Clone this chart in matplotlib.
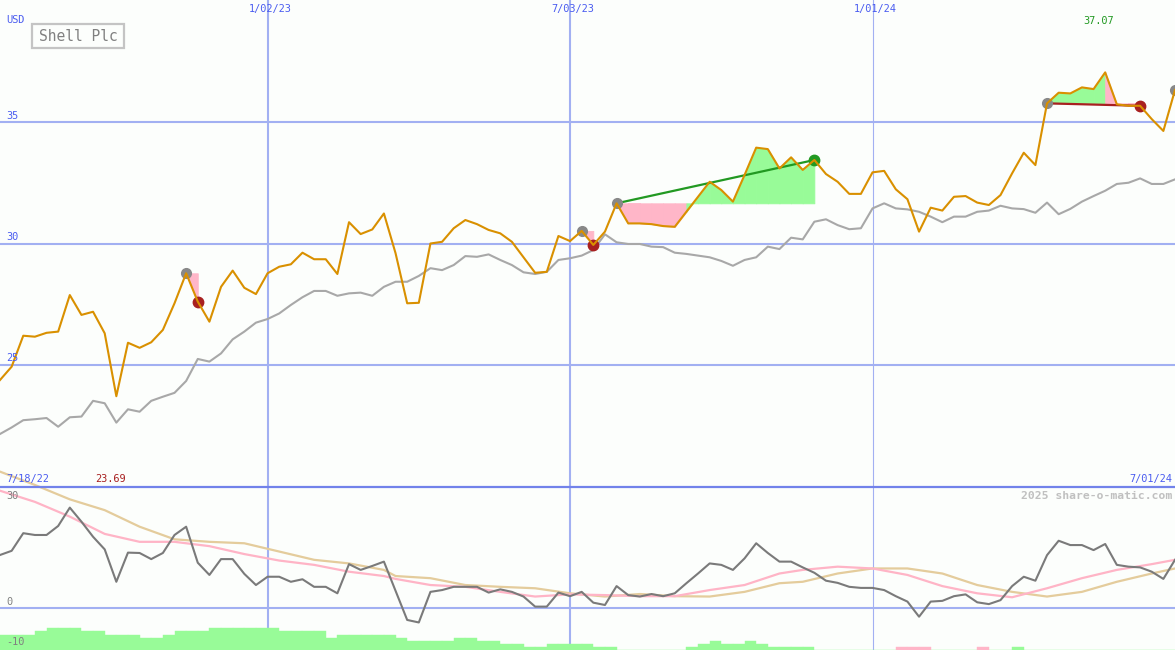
import matplotlib
matplotlib.use('Agg')
import matplotlib.pyplot as plt
from matplotlib.patches import Rectangle
from matplotlib.lines import Line2D
import numpy as np
import pandas as pd

# ---------------- data ----------------
dates = pd.date_range('2022-07-25', periods=102, freq='7D')

price = [24.36, 24.91, 26.19, 26.15, 26.31, 26.36, 27.87, 27.05, 27.18, 26.29,
         23.69, 25.9, 25.69, 25.92, 26.43, 27.53, 28.77, 27.6, 26.77, 28.21,
         28.88, 28.17, 27.91, 28.77, 29.04, 29.14, 29.62, 29.35, 29.35, 28.74,
         30.88, 30.39, 30.58, 31.24, 29.6, 27.53, 27.55, 30.0, 30.07, 30.63,
         30.97, 30.8, 30.56, 30.42, 30.07, 29.43, 28.79, 28.83, 30.31, 30.1,
         30.52, 29.94, 30.49, 31.66, 30.83, 30.83, 30.8, 30.72, 30.69, 31.31,
         31.93, 32.55, 32.21, 31.73, 32.83, 33.96, 33.9, 33.1, 33.56, 33.04,
         33.45, 32.87, 32.55, 32.05, 32.05, 32.94, 33.0, 32.24, 31.83, 30.49,
         31.48, 31.36, 31.93, 31.96, 31.69, 31.59, 32.0, 32.9, 33.75, 33.24,
         35.79, 36.23, 36.2, 36.45, 36.38, 37.07, 35.75, 35.69, 35.69, 35.14,
         34.65, 36.34]

bench = [22.13, 22.4, 22.7, 22.74, 22.79, 22.43, 22.82, 22.85, 23.5, 23.4,
         22.6, 23.15, 23.05, 23.5, 23.67, 23.83, 24.32, 25.23, 25.12, 25.46,
         26.04, 26.36, 26.73, 26.88, 27.11, 27.46, 27.78, 28.04, 28.04, 27.84,
         27.94, 27.97, 27.84, 28.21, 28.42, 28.42, 28.66, 28.98, 28.9, 29.11,
         29.48, 29.45, 29.55, 29.32, 29.11, 28.81, 28.74, 28.83, 29.32, 29.39,
         29.5, 29.73, 30.38, 30.05, 29.98, 29.98, 29.87, 29.85, 29.62, 29.57,
         29.5, 29.43, 29.28, 29.08, 29.32, 29.43, 29.87, 29.77, 30.24, 30.17,
         30.9, 31.0, 30.76, 30.59, 30.63, 31.45, 31.66, 31.45, 31.41, 31.31,
         31.11, 30.88, 31.11, 31.11, 31.31, 31.36, 31.56, 31.45, 31.42, 31.27,
         31.69, 31.21, 31.43, 31.73, 31.96, 32.18, 32.46, 32.51, 32.69, 32.46,
         32.46, 32.65]

osc = [14.64, 15.8, 20.7, 20.2, 20.2, 22.7, 27.8, 23.9, 19.7, 16.2,
       7.2, 15.3, 15.2, 13.5, 15.2, 20.2, 22.5, 12.5, 9.1, 13.5,
       13.5, 9.4, 6.3, 8.6, 8.6, 7.2, 7.9, 5.8, 5.8, 4.0,
       12.1, 10.5, 11.6, 12.8, 4.7, -3.4, -4.1, 4.4, 4.9, 5.8,
       5.8, 5.8, 4.2, 5.1, 4.4, 3.1, 0.3, 0.3, 4.2, 3.2,
       4.4, 1.4, 0.75, 6.0, 3.5, 3.1, 3.8, 3.2, 4.0, 6.8,
       9.5, 12.3, 11.9, 10.5, 13.7, 17.9, 15.2, 12.8, 12.8, 11.2,
       9.7, 7.5, 6.9, 5.8, 5.5, 5.5, 4.9, 3.2, 1.7, -2.5,
       1.7, 1.9, 3.2, 3.7, 1.5, 1.0, 2.1, 6.0, 8.6, 7.5,
       14.6, 18.6, 17.4, 17.4, 16.0, 17.7, 11.9, 11.4, 11.2, 10.0,
       8.0, 13.3]

ma_idx = [0, 3, 6, 9, 12, 15, 18, 21, 24, 27, 30, 33,
          34, 37, 40, 43, 46, 49, 52, 55, 58, 61, 64, 67,
          69, 72, 75, 78, 81, 84, 87, 90, 93, 96, 99, 101]
ma_fast = [32.5, 29.4, 25.3, 20.5, 18.3, 18.3, 17.1, 14.9, 13.1, 11.9, 10.0, 8.8,
           8.0, 6.3, 5.8, 4.4, 3.1, 3.7, 3.5, 3.2, 3.2, 4.9, 6.3, 9.5,
           10.5, 11.4, 10.9, 9.1, 6.0, 4.0, 2.9, 5.4, 8.2, 10.5, 12.1, 13.3]
ma_slow = [37.8, 34.1, 30.1, 27.1, 22.5, 19.0, 18.3, 17.9, 15.6, 13.3, 12.3, 10.5,
           8.8, 8.2, 6.3, 5.8, 5.4, 4.0, 3.1, 3.8, 3.2, 3.1, 4.4, 6.8,
           7.2, 9.5, 10.9, 10.9, 9.5, 6.3, 4.4, 3.1, 4.4, 7.2, 9.5, 10.9]

bars = ([4.2] * 3 + [5.3] + [6.2] * 3 + [5.3] * 2 + [4.2] * 3 + [3.4] * 2 + [4.2] +
        [5.3] * 3 + [6.2] * 6 + [5.3] * 4 + [3.4] + [4.2] * 5 + [3.4] + [2.5] * 4 +
        [3.4] * 2 + [2.5] * 2 + [1.75] * 2 + [0.75] * 2 + [1.75] * 4 + [0.75] * 2 +
        [0] * 6 + [0.75] + [1.75] + [2.5] + [1.75] * 2 + [2.5] + [1.75] + [0.75] * 4 +
        [0] * 7 + [-0.75] * 3 + [0] * 4 + [-0.75] + [0] * 2 + [0.75] + [0] * 14)

# trades: (start index, end index, line colour or None, end dot colour)
trades = [(16, 17, None, '#a82020'),
          (50, 51, None, '#a82020'),
          (53, 70, '#229922', '#229922'),
          (90, 98, '#a82020', '#a82020')]
open_trade = 101

vlines = [pd.Timestamp('2023-01-02'), pd.Timestamp('2023-07-03'), pd.Timestamp('2024-01-01')]
vlabels = ['1/02/23', '7/03/23', '1/01/24']
vwidths = [1.5, 1.5, 0.8]

# ---------------- style ----------------
W, H = 1175, 650
BG = '#fcfefc'
GRID = '#a2b0f2'
SEP = '#7282ea'
BLUE = '#4a5cf0'
GOLD = '#d99000'
GREENF = '#98fb98'
PINKF = '#ffb6c8'
MONO = 'DejaVu Sans Mono'

fig = plt.figure(figsize=(W / 100, H / 100), dpi=100, facecolor=BG)
split = 487
ax = fig.add_axes([0, (H - split) / H, 1, split / H])
axl = fig.add_axes([0, 0, 1, (H - split) / H])
for a in (ax, axl):
    a.set_facecolor('none')
    a.set_axis_off()
    a.set_xlim(dates[0], dates[-1])
ax.set_ylim(19.94, 40.06)
axl.set_ylim(-11.75, 33.53)

# grid
for v in (25, 30, 35):
    ax.axhline(v, color=GRID, lw=1.5, zorder=1)
for d, w in zip(vlines, vwidths):
    ax.axvline(d, color=GRID, lw=w, zorder=1)
    axl.axvline(d, color=GRID, lw=w, zorder=1)
axl.axhline(0, color=GRID, lw=1.5, zorder=1)
fig.add_artist(Line2D([0, 1], [(H - split) / H] * 2, transform=fig.transFigure,
                      color=SEP, lw=1.6, zorder=2))

# main series
ax.plot(dates, bench, color='#a8a8a8', lw=1.5, zorder=3)

pr = np.array(price)
for i0, i1, lcol, dcol in trades:
    level = pr[i0]
    for k in range(i0, i1):
        col = GREENF if pr[k + 1] >= level else PINKF
        ax.fill_between(dates[k:k + 2], level, pr[k:k + 2], facecolor=col,
                        edgecolor=col, lw=0.6, zorder=2.5)

for i0, i1, lcol, dcol in trades:
    if lcol is not None:
        ax.plot([dates[i0], dates[i1]], [pr[i0], pr[i1]], color=lcol, lw=1.6, zorder=3.3)
    ax.plot(dates[i0], pr[i0], 'o', color='#888888', ms=7, zorder=3.5, clip_on=False)
    ax.plot(dates[i1], pr[i1], 'o', color=dcol, ms=7.5, zorder=3.5, clip_on=False)
ax.plot(dates[open_trade], pr[open_trade], 'o', color='#888888', ms=7, zorder=3.5, clip_on=False)

ax.plot(dates, price, color=GOLD, lw=1.5, zorder=4)

# lower panel
b = np.array(bars)
bcol = [GREENF if v >= 0 else PINKF for v in b]
axl.bar(dates, np.abs(b), width=7, align='edge', bottom=-11.75, color=bcol,
        edgecolor=bcol, lw=0.3, zorder=1.5)
axl.plot(dates[ma_idx], ma_slow, color='#e4cc9c', lw=1.6, zorder=3, clip_on=False)
axl.plot(dates[ma_idx], ma_fast, color='#ffb4c6', lw=1.6, zorder=3.2)
axl.plot(dates, osc, color='#7a7a7a', lw=1.5, zorder=4)

# ---------------- texts ----------------
def ftext(x, y, s, **kw):
    kw.setdefault('family', MONO)
    kw.setdefault('fontsize', 7.4)
    kw.setdefault('va', 'center')
    fig.text(x / W, 1 - y / H, s, **kw)

ftext(6, 20, 'USD', color=BLUE)
for v, y in ((35, 116), (30, 237), (25, 358)):
    ftext(6, y, str(v), color=BLUE)
for d, s in zip(vlines, vlabels):
    xpx = (d - dates[0]).days / (dates[-1] - dates[0]).days * W
    ftext(xpx + 3, 9, s, color=BLUE, ha='center')

fig.add_artist(Rectangle((32 / W, 1 - 48 / H), 92 / W, 24 / H, transform=fig.transFigure,
                         fill=False, ec='#c4c4c4', lw=1.6))
ftext(78, 36.5, 'Shell Plc', color='#808080', fontsize=10.5, ha='center')

imax = int(np.argmax(pr))
imin = int(np.argmin(pr))
xmax = imax / (len(pr) - 1) * W
xmin = imin / (len(pr) - 1) * W
ftext(xmax - 7, 21, f'{pr[imax]:.2f}', color='#229922', ha='center')
ftext(xmin - 6, 479, f'{pr[imin]:.2f}', color='#a82020', ha='center')

ftext(6, 479, '7/18/22', color=BLUE)
ftext(1172, 479, '7/01/24', color=BLUE, ha='right')
ftext(1172, 496, '2025 share-o-matic.com', color='#c0c0c0', ha='right',
      fontsize=8.2, weight='bold')
ftext(6, 496, '30', color='#808080')
ftext(6, 602, '0', color='#808080')
ftext(6, 642, '-10', color='#808080')

fig.savefig('out.png', dpi=100, facecolor=BG)
